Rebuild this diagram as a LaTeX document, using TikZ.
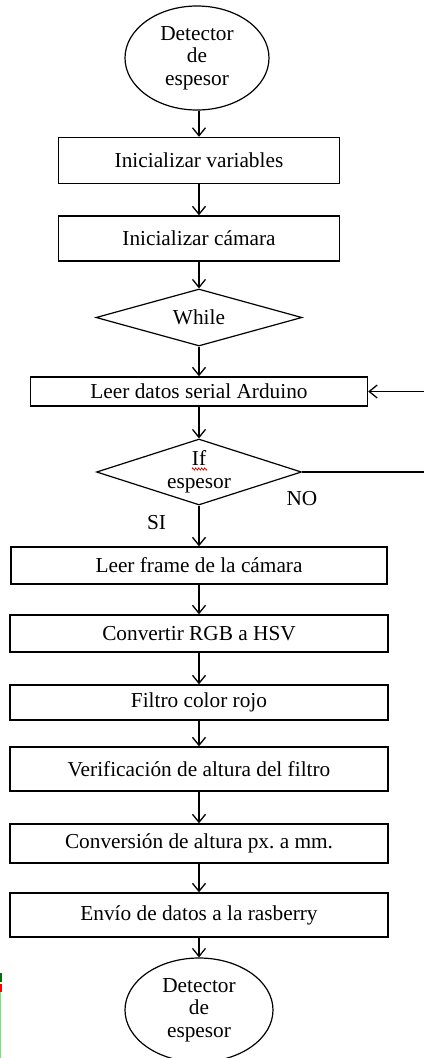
\documentclass[tikz,border=0pt]{standalone}
\usepackage{fontspec}
\setmainfont{Liberation Serif}
\usetikzlibrary{shapes.geometric,arrows.meta,decorations.pathmorphing}

\begin{document}
\begin{tikzpicture}[x=1pt,y=-1pt,
  font=\fontsize{21.3}{22.6}\selectfont,
  every node/.style={inner sep=0pt},
  stepbox/.style={draw, line width=1.4pt, rectangle},
  term/.style={draw, line width=1.2pt, ellipse, align=center,
    minimum width=144pt, minimum height=104pt},
  decision/.style={draw, line width=1.2pt, diamond, align=center,
    shape aspect=3},
  flow/.style={line width=1.3pt, -{Straight Barb[length=8pt,width=13pt,line width=1.3pt]}},
  plain/.style={line width=1.3pt}]

\useasboundingbox (0,0) rectangle (424,1058);

% start / end terminals
\node[term] (start) at (197,58) {Detector\\de\\espesor};

% setup steps
\node[stepbox, minimum width=281pt, minimum height=46pt] (vars) at (199,160.5) {Inicializar variables};
\node[stepbox, minimum width=281pt, minimum height=45pt] (cam) at (199,238.5) {Inicializar cámara};

% main loop
\node[decision, minimum width=206pt, minimum height=57pt] (while) at (199,317.5) {While};
\node[stepbox, minimum width=337pt, minimum height=29pt] (serial) at (199,391.5) {Leer datos serial Arduino};
\node[decision, minimum width=205pt, minimum height=66pt] (if) at (199,472) {If\\espesor};

% processing chain
\node[stepbox, minimum width=376pt, minimum height=37pt] (frame) at (199,565.5) {Leer frame de la cámara};
\node[stepbox, minimum width=378pt, minimum height=37pt] (hsv) at (199,633.5) {Convertir RGB a HSV};
\node[stepbox, minimum width=378pt, minimum height=35pt] (red) at (199,702.5) {Filtro color rojo};
\node[stepbox, minimum width=378pt, minimum height=44pt] (height) at (199,769) {Verificación de altura del filtro};
\node[stepbox, minimum width=378pt, minimum height=39pt] (conv) at (199,843.5) {Conversión de altura px.\ a mm.};
\node[stepbox, minimum width=378pt, minimum height=44pt] (send) at (199,915) {Envío de datos a la rasberry};

\node[term, minimum width=148pt] (stop) at (199,1010) {Detector\\de\\espesor};

% branch labels
\node (no) at (302,499) {NO};
\node (si) at (156.5,523) {SI};

% spell-check underline under "If"
\draw[red!85!black, line width=0.6pt, decorate,
  decoration={zigzag, amplitude=1.2pt, segment length=3pt}]
  (192,469) -- (207,469);

% loop-back connector leaving the picture on the right
\coordinate (outNo) at (424,472);
\coordinate (backIn) at (424,391.5);

% connectors
\draw[flow] (start.south -| vars) -- (vars);
\draw[flow] (vars) -- (cam);
\draw[flow] (cam) -- (while);
\draw[flow] (while) -- (serial);
\draw[flow] (serial) -- (if);
\draw[flow] (if) -- (frame);
\draw[flow] (frame) -- (hsv);
\draw[flow] (hsv) -- (red);
\draw[flow] (red) -- (height);
\draw[flow] (height) -- (conv);
\draw[flow] (conv) -- (send);
\draw[flow] (send) -- (stop);
\draw[plain] (if.east) -- (outNo);
\draw[flow] (backIn) -- (serial.east);

% marks on the left edge
\fill[green!45!black] (0,973) rectangle (1.5,982);
\fill[red] (0,984) rectangle (1.5,992);
\fill[green!35!gray!60] (0,992) rectangle (1,1058);
\end{tikzpicture}
\end{document}
